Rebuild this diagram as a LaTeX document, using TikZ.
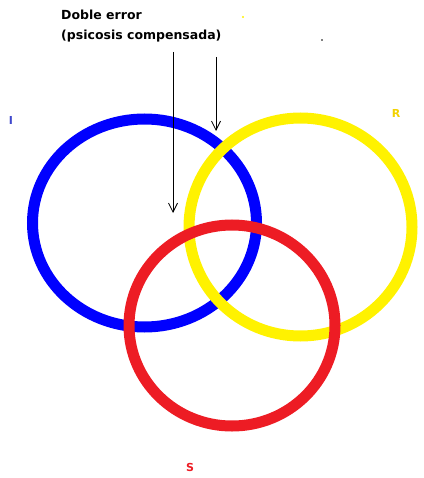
\documentclass[tikz,border=0pt]{standalone}
\usepackage{fontspec}
\setmainfont{DejaVu Sans}
\usetikzlibrary{arrows.meta}
\definecolor{paintblue}{HTML}{0000FF}
\definecolor{paintyellow}{HTML}{FFF200}
\definecolor{paintred}{HTML}{ED1C24}
\definecolor{indigolbl}{HTML}{3F48CC}
\definecolor{goldlbl}{HTML}{F2D200}
\tikzset{
  ring/.style={draw=#1, line width=11pt},
  reg/.style={font=\fontsize{11}{12}\selectfont\bfseries, text=#1, inner sep=0pt},
  pointer/.style={-{Straight Barb[length=9pt, width=9pt, line width=0.8pt]}, line width=0.8pt, color=black},
}

\begin{document}
\begin{tikzpicture}[x=1pt, y=-1pt]
  \useasboundingbox (0,0) rectangle (423,478);
  % the three rings
  \draw[ring=paintblue]   (144.5,223) ellipse [x radius=112, y radius=104];
  \draw[ring=paintyellow] (300.5,227) ellipse [x radius=111.5, y radius=109];
  \draw[ring=paintred]    (232,325.5) ellipse [x radius=103, y radius=100.5];
  % register letters
  \node[reg=indigolbl] (imag) at (11,120) {I};
  \node[reg=goldlbl]   (real) at (396,113) {R};
  \node[reg=paintred]  (symb) at (190,467) {S};
  % note and pointers
  \node[font=\fontsize{12.5}{20}\selectfont\bfseries, align=left, anchor=north west, inner sep=0pt]
    (note) at (61,10) {Doble error\\(psicosis compensada)};
  \coordinate (fromA) at (173,52);
  \coordinate (toA)   at (173,213);
  \coordinate (fromB) at (216,57);
  \coordinate (toB)   at (216,131);
  \draw[pointer] (fromA) -- (toA);
  \draw[pointer] (fromB) -- (toB);
  % stray specks
  \fill[paintyellow] (243,17) circle [radius=1.2];
  \fill[black] (322,40) circle [radius=0.8];
\end{tikzpicture}
\end{document}
